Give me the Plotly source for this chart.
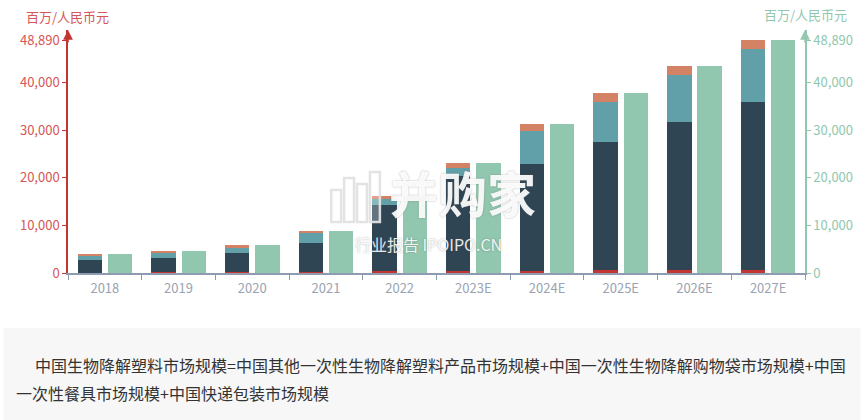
import plotly.graph_objects as go

# ---------------- data ----------------
years = ["2018", "2019", "2020", "2021", "2022", "2023E", "2024E", "2025E", "2026E", "2027E"]
express_pkg = [100, 120, 150, 300, 400, 450, 500, 550, 600, 650]          # red
other_products = [2630, 2960, 3980, 6060, 13870, 19900, 22370, 27000, 31150, 35250]  # navy
shopping_bags = [900, 1120, 1180, 2100, 1400, 1680, 6860, 8400, 9860, 11000]  # teal
tableware = [280, 350, 560, 420, 400, 950, 1530, 1830, 1890, 1990]       # orange
total = [3910, 4550, 5870, 8880, 16070, 22980, 31260, 37780, 43500, 48890]  # green

y_ticks = [0, 10000, 20000, 30000, 40000, 48890]
y_ticktext = ["0", "10,000", "20,000", "30,000", "40,000", "48,890"]
unit_label = "百万/人民币元"
note_line1 = "中国生物降解塑料市场规模=中国其他一次性生物降解塑料产品市场规模+中国一次性生物降解购物袋市场规模+中国"
note_line2 = "一次性餐具市场规模+中国快递包装市场规模"

# ---------------- layout geometry ----------------
W, H = 865, 420
PL, PR, PT, PB = 68, 810, 30, 273   # plot area in pixels


def px(x):
    return (x - PL) / (PR - PL)


def py(y):
    return (PB - y) / (PB - PT)


ymax = 48890 * (PB - PT) / (PB - 40)

RED = "#c23531"
NAVY = "#2f4554"
TEAL = "#61a0a8"
ORANGE = "#d48265"
GREEN = "#91c7ae"
FONT = "Noto Sans CJK SC"

fig = go.Figure()
BW = 0.33
for vals, col in [(express_pkg, RED), (other_products, NAVY), (shopping_bags, TEAL), (tableware, ORANGE)]:
    fig.add_trace(go.Bar(x=years, y=vals, marker=dict(color=col, line=dict(width=0)),
                         width=BW, offset=-0.37, yaxis="y", hoverinfo="x+y"))
fig.add_trace(go.Bar(x=years, y=total, marker=dict(color=GREEN, line=dict(width=0)),
                     width=BW, offset=0.04, yaxis="y2", hoverinfo="x+y"))

fig.update_layout(
    width=W, height=H,
    margin=dict(l=PL, r=W - PR, t=PT, b=H - PB),
    paper_bgcolor="white", plot_bgcolor="white",
    barmode="stack", showlegend=False,
    font=dict(family=FONT),
    xaxis=dict(type="category", showgrid=False, showline=True, linecolor="#8f9bb0", linewidth=1.5,
               ticks="outside", tickson="boundaries", ticklen=5, tickcolor="#8f9bb0",
               ticklabelstandoff=3,
               tickfont=dict(size=13, color="#9aa3b1", family=FONT), range=[-0.5, 9.5]),
    yaxis=dict(range=[0, ymax], tickvals=y_ticks, ticktext=y_ticktext, showgrid=False, zeroline=False,
               showline=True, linecolor=RED, linewidth=1.5, ticks="outside", ticklen=4, tickcolor=RED,
               tickfont=dict(size=13, color="#d65656", family=FONT)),
    yaxis2=dict(range=[0, ymax], tickvals=y_ticks, ticktext=y_ticktext, showgrid=False, zeroline=False,
                overlaying="y", side="right", anchor="x",
                showline=True, linecolor=GREEN, linewidth=1.5, ticks="outside", ticklen=4, tickcolor=GREEN,
                tickfont=dict(size=13, color=GREEN, family=FONT)),
)

annotations = []
# axis arrows
for xp, col in [(0, RED), (1, GREEN)]:
    annotations.append(dict(x=xp, y=1.0, xref="paper", yref="paper", ax=0, ay=14, text="",
                            showarrow=True, arrowhead=2, arrowsize=1.3, arrowwidth=1.5, arrowcolor=col))
# axis unit titles
annotations.append(dict(x=px(67), y=py(16), xref="paper", yref="paper", text=unit_label, showarrow=False,
                        xanchor="center", yanchor="middle", font=dict(size=13, color="#d65656", family=FONT)))
annotations.append(dict(x=px(810), y=py(15), xref="paper", yref="paper", text=unit_label, showarrow=False,
                        xanchor="center", yanchor="middle", font=dict(size=13, color=GREEN, family=FONT)))
# watermark
annotations.append(dict(x=px(465), y=py(229), xref="paper", yref="paper", text="<b>并购家</b>", showarrow=False,
                        xanchor="center", yanchor="bottom",
                        font=dict(size=49, color="rgba(255,255,255,0.92)", family=FONT,
                                  shadow="0px 0px 2px rgba(90,90,90,0.5)")))
annotations.append(dict(x=px(431), y=py(230), xref="paper", yref="paper", text="行业报告 IPOIPO.CN",
                        showarrow=False, xanchor="center", yanchor="top",
                        font=dict(size=16, color="rgba(255,255,255,0.9)", family=FONT,
                                  shadow="0px 0px 2px rgba(90,90,90,0.55)")))
# note text
annotations.append(dict(x=px(33), y=py(365), xref="paper", yref="paper", text=note_line1, showarrow=False,
                        xanchor="left", yanchor="middle", font=dict(size=16, color="#333333", family=FONT)))
annotations.append(dict(x=px(14), y=py(393), xref="paper", yref="paper", text=note_line2, showarrow=False,
                        xanchor="left", yanchor="middle", font=dict(size=16, color="#333333", family=FONT)))
fig.update_layout(annotations=annotations)

# note box
fig.add_shape(type="rect", xref="paper", yref="paper", x0=px(3), x1=px(866), y0=py(422), y1=py(328),
              fillcolor="#f7f7f7", line=dict(width=0), layer="below")
# watermark logo (outlined bars)
for (x0, x1, y0, y1) in [(333, 343, 190, 222), (346, 356, 178, 222), (359, 369, 184, 222), (372, 382, 172, 222)]:
    fig.add_shape(type="rect", xref="paper", yref="paper", x0=px(x0), x1=px(x1), y0=py(y1), y1=py(y0),
                  fillcolor="rgba(255,255,255,0.25)", line=dict(color="rgba(225,225,225,0.95)", width=2.5),
                  layer="above")

fig.write_html("out.html", config={"displayModeBar": False},
               post_script="document.body.style.margin='0';document.body.style.overflow='hidden';")
